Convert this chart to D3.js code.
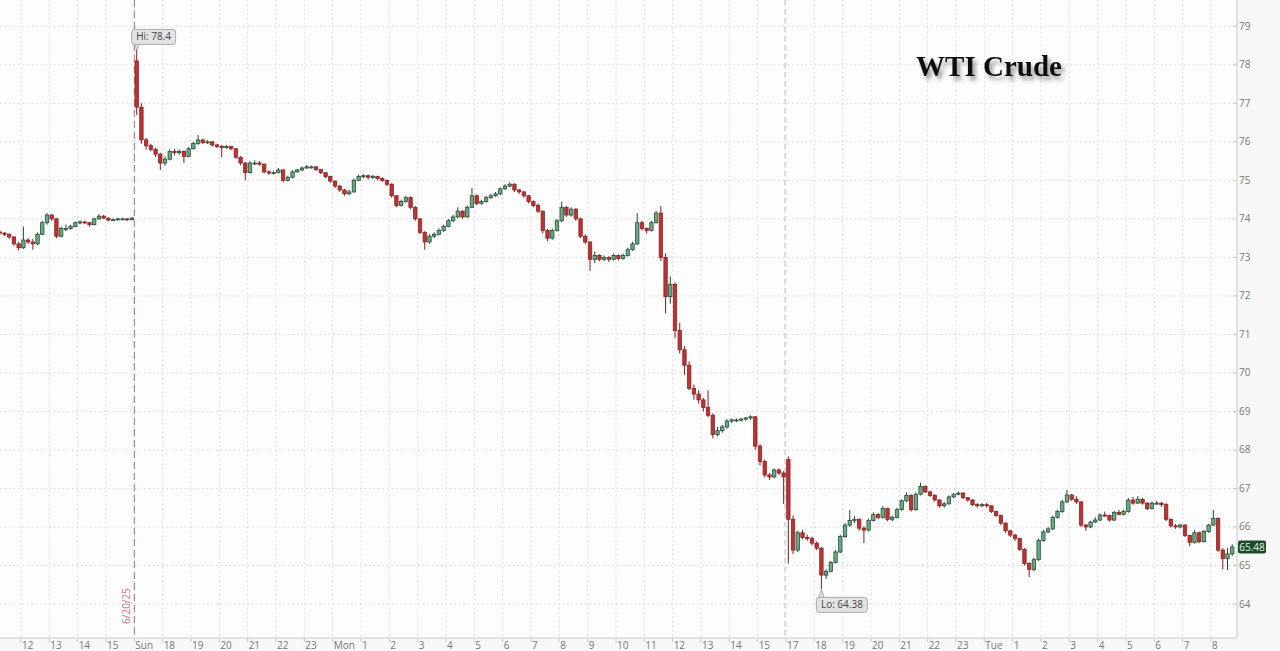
<!DOCTYPE html>
<html><head><meta charset="utf-8">
<script src="https://cdn.jsdelivr.net/npm/d3@7"></script>
<style>
html,body{margin:0;padding:0;background:#fbfbfb;}
svg{display:block;}
text{font-family:"Open Sans","Noto Sans",sans-serif;}
</style></head>
<body><svg id="chart" width="1280" height="651"></svg>
<script>
// ---- data (10-minute bars, bar index -> hour position on the compressed session axis) ----
const tickLabels = ["12","13","14","15","Sun","18","19","20","21","22","23","Mon","1","2","3","4","5","6","7","8","9","10","11","12","13","14","15","17","18","19","20","21","22","23","Tue","1","2","3","4","5","6","7","8"];
const yTicks = [64,65,66,67,68,69,70,71,72,73,74,75,76,77,78,79];
const barStartHour = -0.75;   // first bar position (hours from the "12" tick)
const barStepHour = 1/6;      // 10-minute bars
const weekBreakHour = 4;      // "Sun" open (6/20/25 marker)
const sessionBreakHour = 27;  // daily break ("17")
const breakLabel = "6/20/25";
const hiLabel = {text:"Hi: 78.4", bar:29, value:78.4};
const loLabel = {text:"Lo: 64.38", bar:174, value:64.38};
const lastPrice = 65.48;
const title = "WTI Crude";

const opens = [73.66,73.63,73.60,73.53,73.35,73.25,73.45,73.40,73.35,73.60,73.90,74.10,74.00,73.55,73.75,73.75,73.80,73.90,73.92,73.90,73.85,74.00,74.07,74.02,73.97,73.98,74.00,74.00,73.98,
78.10,76.90,76.05,75.90,75.80,75.68,75.45,75.55,75.75,75.72,75.75,75.62,75.82,75.96,76.05,75.98,76.00,75.92,75.88,75.85,75.88,75.82,75.60,75.45,75.20,75.45,75.45,75.42,75.22,75.19,75.20,75.27,75.00,75.08,75.22,75.27,75.32,75.35,75.35,75.28,75.20,75.10,74.98,74.85,74.75,74.65,74.70,75.00,75.10,75.12,75.08,75.10,75.05,75.00,74.90,74.60,74.35,74.45,74.55,74.30,74.00,73.65,73.40,73.55,73.60,73.70,73.80,73.95,74.05,74.20,74.05,74.30,74.60,74.40,74.45,74.55,74.60,74.65,74.78,74.85,74.90,74.75,74.70,74.60,74.45,74.35,74.20,73.70,73.50,73.70,73.95,74.30,74.10,74.25,74.00,73.55,73.40,72.95,73.05,72.95,73.00,72.95,73.05,72.97,73.05,73.20,73.35,73.90,73.75,73.70,73.90,74.15,73.00,71.98,72.30,71.10,70.60,70.20,69.60,69.45,69.30,69.10,68.90,68.40,68.50,68.60,68.75,68.78,68.78,68.80,68.83,68.86,68.10,67.70,67.35,67.30,67.48,67.40,
67.75,66.20,65.40,65.85,65.73,65.70,65.58,65.45,64.75,64.85,65.08,65.35,65.75,66.05,66.17,66.20,65.97,65.92,66.17,66.32,66.25,66.48,66.20,66.25,66.45,66.68,66.82,66.45,66.85,67.05,66.91,66.82,66.70,66.55,66.60,66.78,66.85,66.88,66.76,66.70,66.58,66.55,66.58,66.55,66.40,66.30,66.10,65.90,65.79,65.70,65.42,65.05,64.90,65.15,65.65,65.87,65.95,66.25,66.40,66.65,66.83,66.72,66.65,66.05,66.00,66.13,66.18,66.31,66.30,66.18,66.38,66.33,66.40,66.70,66.62,66.72,66.62,66.48,66.62,66.62,66.58,66.20,66.03,66.00,66.05,65.78,65.60,65.85,65.62,65.88,66.05,66.22,65.40,65.18,65.30];
const highs = [73.70,73.66,73.62,73.55,73.40,73.80,73.50,73.48,73.65,73.95,74.15,74.12,74.02,73.80,73.85,73.85,73.93,73.96,73.95,73.92,74.03,74.12,74.10,74.04,74.01,74.03,74.03,74.02,74.05,
78.40,77.00,76.10,75.95,75.85,75.72,75.62,75.80,75.82,75.80,75.78,75.86,76.00,76.18,76.08,76.04,76.02,75.95,75.92,75.92,75.90,75.84,75.63,75.48,75.50,75.52,75.50,75.44,75.26,75.24,75.32,75.29,75.12,75.26,75.30,75.36,75.40,75.38,75.37,75.30,75.22,75.12,75.00,74.88,74.78,74.75,75.05,75.15,75.16,75.15,75.14,75.12,75.08,75.02,74.92,74.62,74.50,74.60,74.58,74.33,74.02,73.68,73.60,73.65,73.75,73.85,74.00,74.10,74.30,74.22,74.35,74.80,74.63,74.50,74.60,74.65,74.70,74.82,74.90,74.95,74.92,74.78,74.72,74.62,74.48,74.40,74.22,73.74,73.75,74.00,74.45,74.33,74.30,74.28,74.03,73.60,73.42,73.15,73.08,73.05,73.03,73.10,73.08,73.10,73.25,73.40,74.15,73.95,73.78,73.95,74.20,74.33,73.10,72.50,72.35,71.30,70.70,70.30,69.70,69.55,69.35,69.55,68.95,68.60,68.65,68.80,68.82,68.82,68.84,68.86,68.90,68.88,68.15,67.75,67.40,67.52,67.52,67.45,
67.83,66.30,65.90,65.92,65.80,65.75,65.62,65.48,64.90,65.12,65.40,65.80,66.10,66.44,66.28,66.22,66.02,66.22,66.38,66.36,66.55,66.50,66.30,66.50,66.72,66.90,66.85,66.90,67.15,67.08,66.94,66.85,66.72,66.65,66.82,66.88,66.92,66.90,66.78,66.72,66.62,66.62,66.62,66.57,66.42,66.32,66.12,65.92,65.82,65.72,65.45,65.08,65.20,65.70,65.92,66.00,66.30,66.45,66.70,66.96,66.86,66.80,66.68,66.08,66.16,66.25,66.35,66.40,66.32,66.42,66.45,66.45,66.75,66.78,66.80,66.75,66.64,66.66,66.68,66.65,66.62,66.22,66.08,66.08,66.07,65.80,65.92,65.88,65.92,66.08,66.44,66.25,65.45,65.45,65.55];
const lows = [73.58,73.55,73.48,73.30,73.18,73.22,73.35,73.20,73.32,73.58,73.85,73.95,73.50,73.52,73.68,73.72,73.78,73.86,73.86,73.80,73.83,73.98,74.00,73.94,73.95,73.96,73.97,73.95,73.96,
76.70,75.95,75.80,75.75,75.60,75.27,75.38,75.52,75.65,75.66,75.45,75.60,75.80,75.92,75.94,75.95,75.88,75.84,75.60,75.82,75.78,75.56,75.40,75.00,75.18,75.40,75.38,75.18,75.14,75.15,75.18,74.96,74.97,75.05,75.20,75.24,75.30,75.30,75.24,75.16,75.06,74.94,74.80,74.70,74.60,74.62,74.68,74.98,75.05,75.02,75.04,75.00,74.96,74.85,74.55,74.30,74.32,74.42,74.25,73.95,73.60,73.20,73.35,73.50,73.57,73.66,73.78,73.92,74.02,74.00,74.03,74.28,74.35,74.37,74.42,74.52,74.57,74.62,74.75,74.82,74.70,74.65,74.55,74.40,74.30,74.15,73.62,73.42,73.46,73.67,73.92,74.05,74.06,73.95,73.50,73.35,72.65,72.85,72.90,72.90,72.88,72.92,72.92,72.94,73.02,73.17,73.32,73.70,73.62,73.67,73.88,72.90,71.55,71.80,70.90,70.50,69.95,69.55,69.30,69.20,69.00,68.85,68.30,68.35,68.45,68.55,68.70,68.72,68.74,68.76,68.78,68.00,67.60,67.28,67.22,67.27,67.35,66.60,
65.05,65.30,65.35,65.68,65.64,65.52,65.40,64.38,64.65,64.82,65.05,65.32,65.72,66.00,66.10,65.90,65.58,65.88,66.14,66.20,66.22,66.15,66.15,66.22,66.42,66.65,66.40,66.42,66.82,66.88,66.78,66.66,66.50,66.50,66.58,66.75,66.82,66.72,66.66,66.54,66.50,66.52,66.50,66.36,66.26,66.05,65.85,65.74,65.64,65.38,65.00,64.70,64.85,65.12,65.62,65.84,65.92,66.22,66.37,66.62,66.68,66.60,66.00,65.90,65.97,66.10,66.15,66.26,66.14,66.15,66.30,66.30,66.37,66.58,66.60,66.58,66.44,66.45,66.58,66.52,66.15,65.98,65.95,65.96,65.74,65.50,65.57,65.58,65.60,65.85,66.02,65.35,64.90,64.88,65.25];
const closes = [73.63,73.60,73.53,73.35,73.25,73.45,73.40,73.35,73.60,73.90,74.10,74.00,73.55,73.75,73.75,73.80,73.90,73.92,73.90,73.85,74.00,74.07,74.02,73.97,73.98,74.00,74.00,73.98,74.02,
76.90,76.05,75.90,75.80,75.68,75.45,75.55,75.75,75.72,75.75,75.62,75.82,75.96,76.05,75.98,76.00,75.92,75.88,75.85,75.88,75.82,75.60,75.45,75.20,75.45,75.45,75.42,75.22,75.19,75.20,75.27,75.00,75.08,75.22,75.27,75.32,75.35,75.35,75.28,75.20,75.10,74.98,74.85,74.75,74.65,74.70,75.00,75.10,75.12,75.08,75.10,75.05,75.00,74.90,74.60,74.35,74.45,74.55,74.30,74.00,73.65,73.40,73.55,73.60,73.70,73.80,73.95,74.05,74.20,74.05,74.30,74.60,74.40,74.45,74.55,74.60,74.65,74.78,74.85,74.90,74.75,74.70,74.60,74.45,74.35,74.20,73.70,73.50,73.70,73.95,74.30,74.10,74.25,74.00,73.55,73.40,72.95,73.05,72.95,73.00,72.95,73.05,72.97,73.05,73.20,73.35,73.90,73.75,73.70,73.90,74.15,73.00,71.98,72.30,71.10,70.60,70.20,69.60,69.45,69.30,69.10,68.90,68.40,68.50,68.60,68.75,68.78,68.78,68.80,68.83,68.86,68.10,67.70,67.35,67.30,67.48,67.40,67.30,
66.20,65.40,65.85,65.73,65.70,65.58,65.45,64.75,64.85,65.08,65.35,65.75,66.05,66.17,66.20,65.97,65.92,66.17,66.32,66.25,66.48,66.20,66.25,66.45,66.68,66.82,66.45,66.85,67.05,66.91,66.82,66.70,66.55,66.60,66.78,66.85,66.88,66.76,66.70,66.58,66.55,66.58,66.55,66.40,66.30,66.10,65.90,65.79,65.70,65.42,65.05,64.90,65.15,65.65,65.87,65.95,66.25,66.40,66.65,66.83,66.72,66.65,66.05,66.00,66.13,66.18,66.31,66.30,66.18,66.38,66.33,66.40,66.70,66.62,66.72,66.62,66.48,66.62,66.62,66.58,66.20,66.03,66.00,66.05,65.78,65.60,65.85,65.62,65.88,66.05,66.22,65.40,65.18,65.30,65.48];

// ---- drawing ----
const svg = d3.select("#chart");
const W = 1280, H = 651;
const plotRight = 1237, plotBottom = 638;

const x = d3.scaleLinear().domain([0, tickLabels.length - 1]).range([21, 21 + 28.333 * (tickLabels.length - 1)]);
const y = d3.scaleLinear().domain([64, 79]).range([604, 26.3]);

const bars = closes.map((c, i) => ({h: barStartHour + i * barStepHour, o: opens[i], hi: highs[i], lo: lows[i], c}));

const defs = svg.append("defs");
defs.append("clipPath").attr("id","plotclip").append("rect").attr("x",0).attr("y",0).attr("width",plotRight).attr("height",plotBottom);
const f = defs.append("filter").attr("id","shadow").attr("x","-20%").attr("y","-40%").attr("width","150%").attr("height","200%");
f.append("feDropShadow").attr("dx",3).attr("dy",4).attr("stdDeviation",2.2).attr("flood-color","#444").attr("flood-opacity",0.55);

svg.append("rect").attr("width",W).attr("height",H).attr("fill","#f8f8f8");
svg.append("rect").attr("width",plotRight).attr("height",plotBottom).attr("fill","#fdfdfd");

// grid
const grid = svg.append("g").attr("clip-path","url(#plotclip)");
grid.selectAll("line.h").data(yTicks).join("line")
  .attr("x1",0).attr("x2",plotRight).attr("y1",d=>y(d)).attr("y2",d=>y(d))
  .attr("stroke","#d6d6d6").attr("stroke-width",1).attr("stroke-dasharray","1.5,3");
grid.selectAll("line.v").data(tickLabels.map((t,i)=>i)).join("line")
  .attr("x1",d=>x(d)).attr("x2",d=>x(d)).attr("y1",0).attr("y2",plotBottom)
  .attr("stroke","#d6d6d6").attr("stroke-width",1).attr("stroke-dasharray","1.5,3");

// break lines
svg.append("line").attr("x1",x(sessionBreakHour)-1).attr("x2",x(sessionBreakHour)-1).attr("y1",0).attr("y2",plotBottom)
  .attr("stroke","#bdbdbd").attr("stroke-dasharray","5,4");
svg.append("line").attr("x1",x(weekBreakHour)).attr("x2",x(weekBreakHour)).attr("y1",0).attr("y2",plotBottom)
  .attr("stroke","#b46a6a").attr("stroke-dasharray","7,4");
svg.append("text").attr("transform",`translate(${x(weekBreakHour)-4},${606}) rotate(-90)`)
  .attr("text-anchor","middle").attr("font-size",10).attr("fill","#c07a7a").text(breakLabel);

// title
svg.append("text").attr("x",989).attr("y",76).attr("text-anchor","middle")
  .style("font-family","'Liberation Serif','Times New Roman',serif").attr("font-weight","bold")
  .attr("font-size",29).attr("fill","#111").attr("filter","url(#shadow)").text(title);

// candles
const cg = svg.append("g").attr("clip-path","url(#plotclip)");
const bw = 3.4;
const up = d => d.c >= d.o;
const cand = cg.selectAll("g.c").data(bars).join("g");
cand.append("line")
  .attr("x1",d=>x(d.h)).attr("x2",d=>x(d.h))
  .attr("y1",d=>y(d.hi)).attr("y2",d=>y(d.lo))
  .attr("stroke",d=>up(d)?"#22442f":"#7c1f1f").attr("stroke-width",1);
cand.append("rect")
  .attr("x",d=>x(d.h)-bw/2).attr("width",bw)
  .attr("y",d=>y(Math.max(d.o,d.c))).attr("height",d=>Math.max(1,Math.abs(y(d.o)-y(d.c))))
  .attr("fill",d=>up(d)?"#6aa984":"#b83535")
  .attr("stroke",d=>up(d)?"#2a4f3a":"#8e2424").attr("stroke-width",0.8);

// axes
const xAxisG = svg.append("g").attr("transform",`translate(0,${plotBottom})`);
xAxisG.append("line").attr("x1",0).attr("x2",plotRight).attr("stroke","#c8c8c8");
const xt = xAxisG.selectAll("g.t").data(tickLabels.map((t,i)=>({t,i}))).join("g");
xt.append("line").attr("x1",d=>x(d.i)).attr("x2",d=>x(d.i)).attr("y1",0).attr("y2",4).attr("stroke","#c8c8c8");
xt.append("text").attr("x",d=>x(d.i)+1).attr("y",11).attr("font-size",10).attr("fill","#777").text(d=>d.t);

const yAxisG = svg.append("g").attr("transform",`translate(${plotRight},0)`);
yAxisG.append("line").attr("y1",0).attr("y2",plotBottom).attr("stroke","#c8c8c8");
const ytg = yAxisG.selectAll("g.t").data(yTicks).join("g");
ytg.append("line").attr("x1",-4).attr("x2",0).attr("y1",d=>y(d)).attr("y2",d=>y(d)).attr("stroke","#c8c8c8");
ytg.append("text").attr("x",2).attr("y",d=>y(d)+3.5).attr("font-size",10).attr("fill","#777").text(d=>d);

// last price tag
const ly = y(lastPrice);
svg.append("rect").attr("x",plotRight+1).attr("y",ly-6.5).attr("width",28).attr("height",13).attr("rx",2).attr("fill","#1d4a2b");
svg.append("text").attr("x",plotRight+15).attr("y",ly+3.5).attr("text-anchor","middle").attr("font-size",10).attr("fill","#e6f3e6").text(lastPrice.toFixed(2));

// hi / lo callouts
function callout(lbl, above){
  const px = x(bars[lbl.bar].h), py = y(lbl.value);
  const g = svg.append("g");
  const t = g.append("text").attr("font-size",10).attr("fill","#444").text(lbl.text);
  const w = t.node().getComputedTextLength() + 9, h = 15;
  const bx = px - 5, by = above ? py - 20 : py + 8;
  const d = above ? `M${bx+2},${by+h-1} L${px},${py} L${bx+8},${by+h-1}` : `M${bx+2},${by+1} L${px},${py} L${bx+8},${by+1}`;
  g.insert("path","text").attr("d",d).attr("fill","#e3e3e3").attr("stroke","#aaa");
  g.insert("rect","text").attr("x",bx).attr("y",by).attr("width",w).attr("height",h).attr("rx",3).attr("fill","#e3e3e3").attr("stroke","#aaa");
  t.attr("x",bx+w/2).attr("y",by+11).attr("text-anchor","middle");
}
callout(hiLabel, true);
callout(loLabel, false);
</script></body></html>
